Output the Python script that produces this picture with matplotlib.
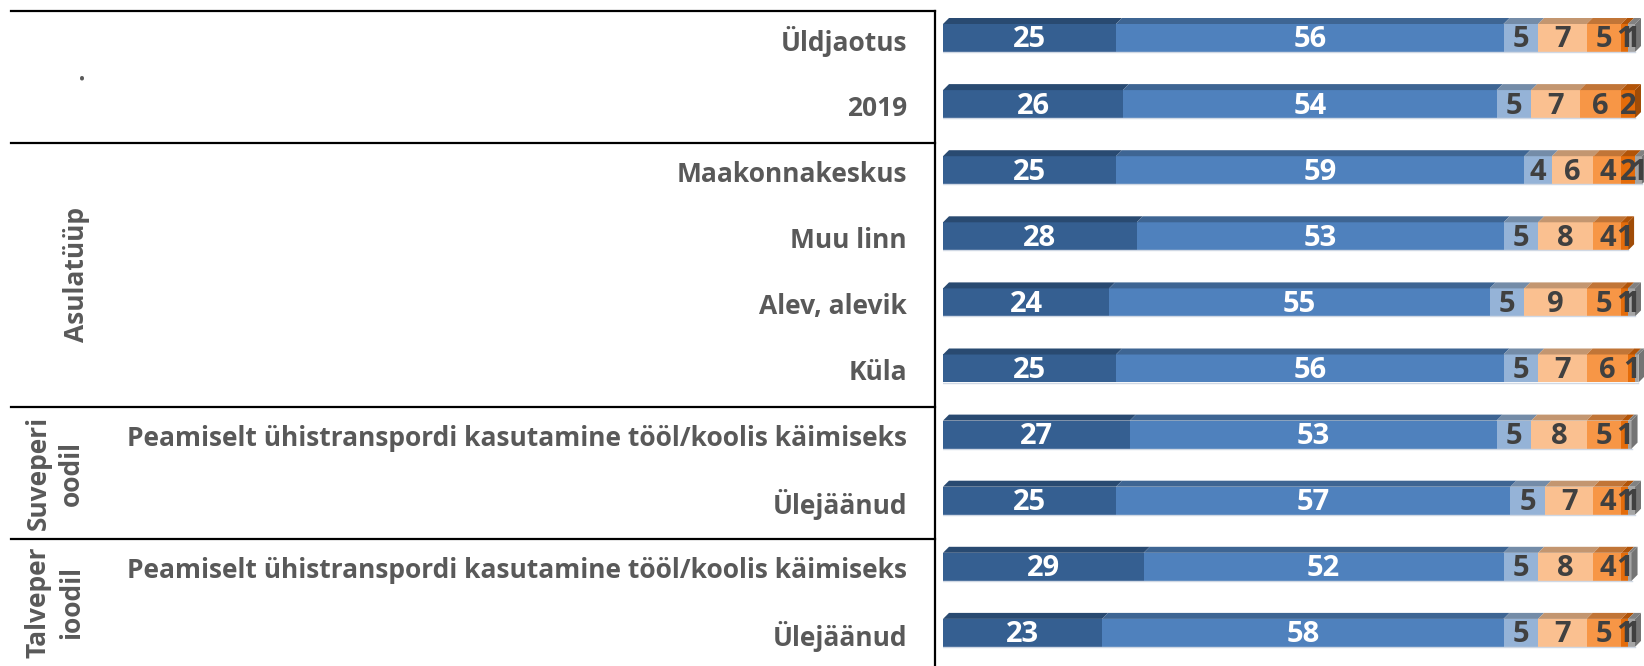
import numpy as np
import matplotlib.pyplot as plt
from matplotlib.patches import Polygon
from matplotlib.colors import to_rgb

plt.rcParams['font.family'] = ['Open Sans', 'DejaVu Sans']
plt.rcParams['font.weight'] = 'bold'

# row labels, top to bottom
categories = ["Üldjaotus", "2019", "Maakonnakeskus", "Muu linn", "Alev, alevik", "Küla",
              "Peamiselt ühistranspordi kasutamine tööl/koolis käimiseks", "Ülejäänud",
              "Peamiselt ühistranspordi kasutamine tööl/koolis käimiseks", "Ülejäänud"]
groups = [".", "Asulatüüp", "Suveperi\noodil", "Talveper\nioodil"]
group_sizes = [2, 4, 2, 2]

# stacked series, %
s1 = [25, 26, 25, 28, 24, 25, 27, 25, 29, 23]
s2 = [56, 54, 59, 53, 55, 56, 53, 57, 52, 58]
s3 = [5, 5, 4, 5, 5, 5, 5, 5, 5, 5]
s4 = [7, 7, 6, 8, 9, 7, 8, 7, 8, 7]
s5 = [5, 6, 4, 4, 5, 6, 5, 4, 4, 5]
s6 = [1, 2, 2, 1, 1, 1, 1, 1, 1, 1]
s7 = [1, 0, 1, 0, 1, 0.5, 0.5, 1, 0.5, 1]
series = [s1, s2, s3, s4, s5, s6, s7]

colors = ['#355F91', '#4F81BD', '#95B3D7', '#FAC090', '#F79646', '#E46C0A', '#A5A5A5']
label_colors = ['white', 'white', '#404040', '#404040', '#404040', '#404040', '#404040']

W, H = 1644, 666
fig = plt.figure(figsize=(W / 100, H / 100), dpi=100)

# rows are 66.1 px apart, first bar centred 38 px from the top
row_px = 66.1
y_top = -38 / row_px
y_bot = (H - 38) / row_px

left_px = 943
ax = fig.add_axes([left_px / W, 0, (W - left_px) / W, 1])
ax.set_xlim(0, 101.3)
ax.set_ylim(y_bot, y_top)
ax.axis('off')

px_x = (W - left_px) / 101.3  # px per unit
bh = 28 / row_px
dx = 6 / px_x
dy = 6 / row_px

def shade(c, f=0.78):
    r, g, b = to_rgb(c)
    return (r * f, g * f, b * f)

ypos = np.arange(len(categories))
left = np.zeros(len(categories))
for k, vals in enumerate(series):
    vals = np.array(vals, dtype=float)
    ax.barh(ypos, vals, left=left, height=bh, color=colors[k], linewidth=0)
    for i in range(len(categories)):
        if vals[i] <= 0:
            continue
        x0, x1 = left[i], left[i] + vals[i]
        top = ypos[i] - bh / 2
        ax.add_patch(Polygon([(x0, top), (x0 + dx, top - dy), (x1 + dx, top - dy), (x1, top)],
                             closed=True, color=shade(colors[k]), linewidth=0))
        if vals[i] >= 1:
            ax.text((x0 + x1) / 2, ypos[i] + 0.03, '{:d}'.format(int(vals[i])), ha='center', va='center',
                    fontsize=21, fontweight='bold', color=label_colors[k])
    left = left + vals

# side face at the end of each bar
for i in range(len(categories)):
    last = max(k for k in range(len(series)) if series[k][i] > 0)
    xe = left[i]
    top = ypos[i] - bh / 2
    bot = ypos[i] + bh / 2
    ax.add_patch(Polygon([(xe, top), (xe + dx, top - dy), (xe + dx, bot - dy), (xe, bot)],
                         closed=True, color=shade(colors[last], 0.7), linewidth=0, clip_on=False))
    ax.plot([0, xe], [bot, bot], color='#D0D8E4', lw=1)

# left table with row and group labels
tab = fig.add_axes([0, 0, left_px / W, 1])
tab.set_xlim(0, left_px)
tab.set_ylim(y_bot, y_top)
tab.axis('off')

for i, c in enumerate(categories):
    tab.text(907, ypos[i] + 0.06, c, ha='right', va='center', fontsize=19,
             fontweight='bold', color='#595959')

off = 0.085
start = 0
for g, n in zip(groups, group_sizes):
    b = start - 0.5 + off
    tab.plot([11, 935], [b, b], color='black', lw=1.6)
    e = min(start + n - 0.5 + off, y_bot)
    mid = (b + e) / 2
    tab.text(55 if '\n' in g else 76, mid, g, rotation=90, ha='center', va='center',
             fontsize=19, fontweight='bold', color='#595959', multialignment='center',
             linespacing=1.3)
    start += n
tab.plot([935, 935], [-0.5 + off, y_bot], color='black', lw=1.6)

fig.savefig('out.png', dpi=100)
